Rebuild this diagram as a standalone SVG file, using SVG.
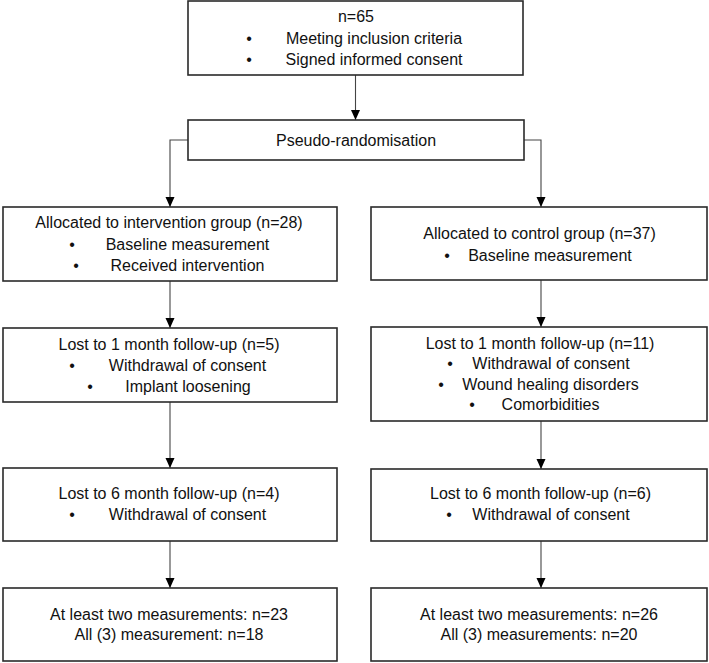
<svg xmlns="http://www.w3.org/2000/svg" width="709" height="663" viewBox="0 0 709 663">
<style>
.box{fill:#fff;stroke:#2a2a2a;stroke-width:1.6}
.ln{fill:none;stroke:#444;stroke-width:1.1}
text{font-family:"Liberation Sans",Arial,sans-serif;font-size:16px;fill:#111;text-anchor:middle}
</style>
<defs>
<marker id="ah" markerUnits="userSpaceOnUse" markerWidth="10" markerHeight="10" viewBox="0 0 10 10" refX="10" refY="5" orient="auto">
<path d="M0,0.5 L10,5 L0,9.5 Z" fill="#000"/>
</marker>
</defs>
<rect width="709" height="663" fill="#fff"/>
<g id="connectors">
<line class="ln" x1="355.5" y1="75" x2="355.5" y2="120" marker-end="url(#ah)"/>
<path class="ln" d="M188,140 H170 V207" marker-end="url(#ah)"/>
<path class="ln" d="M524,140 H541 V207" marker-end="url(#ah)"/>
<line class="ln" x1="170" y1="281" x2="170" y2="328" marker-end="url(#ah)"/>
<line class="ln" x1="170" y1="402" x2="170" y2="468" marker-end="url(#ah)"/>
<line class="ln" x1="170" y1="541" x2="170" y2="588" marker-end="url(#ah)"/>
<line class="ln" x1="541" y1="280" x2="541" y2="327" marker-end="url(#ah)"/>
<line class="ln" x1="541" y1="421" x2="541" y2="469" marker-end="url(#ah)"/>
<line class="ln" x1="541" y1="541" x2="541" y2="588" marker-end="url(#ah)"/>
</g>
<g id="n-top">
<rect class="box" x="188" y="1" width="335" height="74"/>
<text x="356" y="22">n=65</text>
<text x="249" y="44">•</text><text x="374" y="44">Meeting inclusion criteria</text>
<text x="249" y="65">•</text><text x="374" y="65">Signed informed consent</text>
</g>
<g id="n-random">
<rect class="box" x="188" y="120" width="336" height="40"/>
<text x="356" y="146">Pseudo-randomisation</text>
</g>
<g id="n-intervention">
<rect class="box" x="3" y="207" width="334" height="74"/>
<text x="169" y="228">Allocated to intervention group (n=28)</text>
<text x="72" y="250">•</text><text x="187.5" y="250">Baseline measurement</text>
<text x="76" y="271">•</text><text x="187.5" y="271">Received intervention</text>
</g>
<g id="n-control">
<rect class="box" x="371" y="207" width="336" height="73"/>
<text x="539.5" y="239">Allocated to control group (n=37)</text>
<text x="447" y="261">•</text><text x="550" y="261">Baseline measurement</text>
</g>
<g id="n-lost1-left">
<rect class="box" x="3" y="328" width="334" height="74"/>
<text x="169" y="350">Lost to 1 month follow-up (n=5)</text>
<text x="72" y="371">•</text><text x="187.5" y="371">Withdrawal of consent</text>
<text x="90" y="392">•</text><text x="188" y="392">Implant loosening</text>
</g>
<g id="n-lost1-right">
<rect class="box" x="371" y="327" width="336" height="94"/>
<text x="540" y="349">Lost to 1 month follow-up (n=11)</text>
<text x="450" y="369">•</text><text x="551" y="369">Withdrawal of consent</text>
<text x="441" y="390">•</text><text x="550.5" y="390">Wound healing disorders</text>
<text x="472" y="410">•</text><text x="550.5" y="410">Comorbidities</text>
</g>
<g id="n-lost6-left">
<rect class="box" x="3" y="468" width="334" height="73"/>
<text x="169" y="499">Lost to 6 month follow-up (n=4)</text>
<text x="72" y="520">•</text><text x="187.5" y="520">Withdrawal of consent</text>
</g>
<g id="n-lost6-right">
<rect class="box" x="371" y="469" width="336" height="72"/>
<text x="540.5" y="499">Lost to 6 month follow-up (n=6)</text>
<text x="449" y="520">•</text><text x="551" y="520">Withdrawal of consent</text>
</g>
<g id="n-final-left">
<rect class="box" x="3" y="588" width="334" height="73"/>
<text x="169" y="620">At least two measurements: n=23</text>
<text x="169" y="640">All (3) measurement: n=18</text>
</g>
<g id="n-final-right">
<rect class="box" x="371" y="588" width="336" height="73"/>
<text x="539" y="620">At least two measurements: n=26</text>
<text x="539" y="640">All (3) measurements: n=20</text>
</g>
</svg>
